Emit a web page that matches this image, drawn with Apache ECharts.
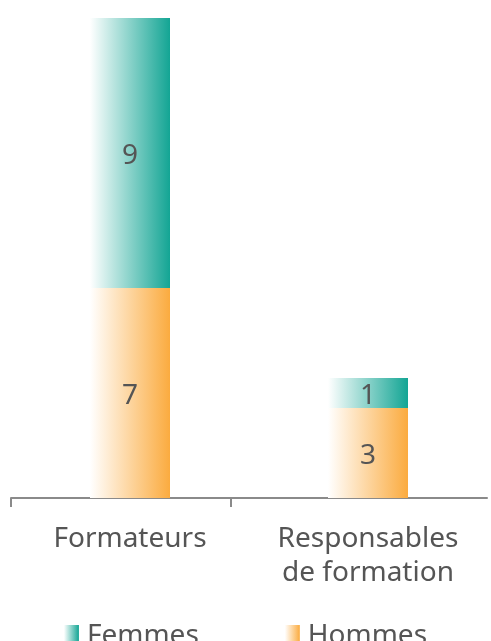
<!DOCTYPE html>
<html>
<head>
<meta charset="utf-8">
<script src="https://cdn.jsdelivr.net/npm/echarts@6/dist/echarts.min.js"></script>
<style>
  html, body { margin: 0; padding: 0; background: #fff; }
  #chart { width: 491px; height: 641px; }
</style>
</head>
<body>
<div id="chart"></div>
<script>
var categories = ['Formateurs', 'Responsables\nde formation'];
var hommes = [7, 3];
var femmes = [9, 1];

var chart = echarts.init(document.getElementById('chart'));

function grad(c) {
  return new echarts.graphic.LinearGradient(0, 0, 1, 0, [
    { offset: 0, color: '#ffffff' },
    { offset: 1, color: c }
  ]);
}
var teal = '#13a594';
var orange = '#fbab3f';
var txt = '#555555';

var barLabel = {
  show: true, position: 'inside', offset: [0, 3],
  fontFamily: 'Noto Sans', fontSize: 28, color: txt
};

var option = {
  animation: false,
  grid: { left: 11, right: 4, top: 18, bottom: 143 },
  legend: {
    data: ['Femmes', 'Hommes'],
    bottom: -14,
    left: 'center',
    itemWidth: 15,
    itemHeight: 22,
    itemGap: 86,
    icon: 'rect',
    textStyle: { fontFamily: 'Noto Sans', fontSize: 28, color: txt, padding: [0, 0, 0, 3] }
  },
  xAxis: [{
    type: 'category',
    data: categories,
    axisLine: { lineStyle: { color: '#8a8a8a', width: 2 } },
    axisTick: { show: false },
    axisLabel: {
      fontFamily: 'Noto Sans', fontSize: 28, color: txt,
      lineHeight: 34, margin: 24, interval: 0
    }
  }, {
    type: 'value',
    min: 0,
    max: 476,
    position: 'bottom',
    axisLine: { show: false },
    splitLine: { show: false },
    axisLabel: { show: false },
    axisTick: { show: true, length: 9, customValues: [0, 220], lineStyle: { color: '#8a8a8a', width: 2 } }
  }],
  yAxis: {
    type: 'value',
    min: 0,
    max: 16,
    show: false
  },
  series: [{
    name: 'Hommes',
    type: 'bar',
    stack: 'total',
    barWidth: 80,
    data: hommes,
    itemStyle: { color: grad(orange) },
    label: barLabel
  }, {
    name: 'Femmes',
    type: 'bar',
    stack: 'total',
    barWidth: 80,
    data: femmes,
    itemStyle: { color: grad(teal) },
    label: barLabel
  }]
};
chart.setOption(option);
</script>
</body>
</html>
